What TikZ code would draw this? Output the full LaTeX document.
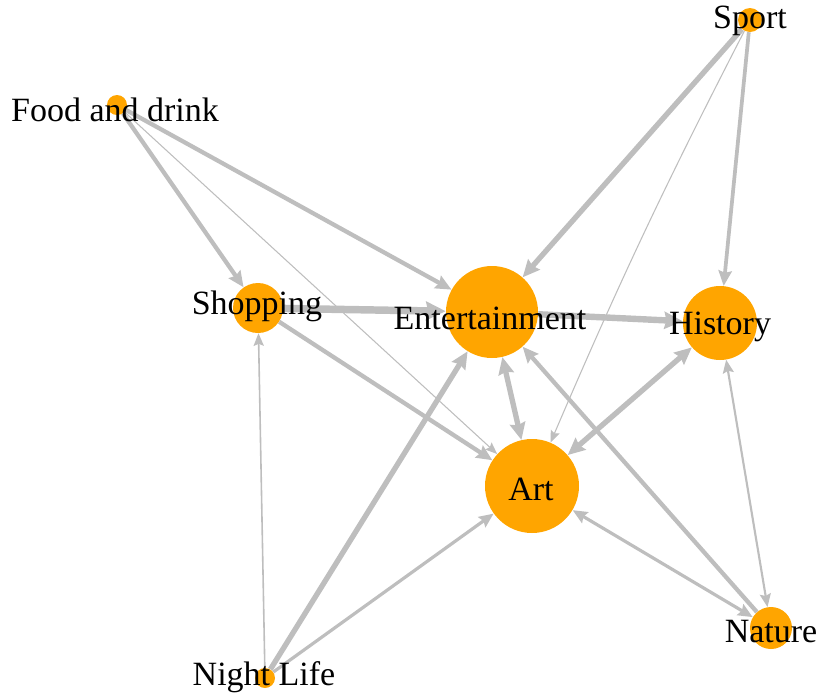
\documentclass[tikz,border=0pt]{standalone}
\usepackage{fontspec}
\setmainfont{Liberation Serif}
\usetikzlibrary{arrows.meta}
\definecolor{vorange}{RGB}{255,165,0}
\definecolor{egray}{RGB}{190,190,190}
\pgfdeclarelayer{edges}
\pgfsetlayers{edges,main}
\tikzset{
	vtx/.style={circle, fill=vorange, inner sep=0pt, minimum size=#1*1.5pt},
	lbl/.style={font=\fontsize{25.5}{28}\selectfont, inner sep=0pt, text=black},
	link/.style={draw=egray, line width=#1*0.8pt},
	>={Stealth[length=8pt 1.2, width=6pt 1.4, inset=1.5pt]}
}

\begin{document}
\begin{tikzpicture}[x=0.75pt, y=-0.75pt]
	\useasboundingbox (0,0) rectangle (819,694);

	\node[vtx=12] (sport) at (750,20) {};
	\node[vtx=10] (food) at (117,105) {};
	\node[vtx=25] (shopping) at (258,308) {};
	\node[vtx=46] (entertainment) at (492,312) {};
	\node[vtx=37] (history) at (720,323) {};
	\node[vtx=47] (art) at (532,486) {};
	\node[vtx=21] (nature) at (771,628) {};
	\node[vtx=10] (nightlife) at (265,678) {};

	\node[lbl] (sport-l) at (750,21) {Sport};
	\node[lbl] (food-l) at (115,110) {Food and drink};
	\node[lbl] (shopping-l) at (257,306) {Shopping};
	\node[lbl] (entertainment-l) at (490,318) {Entertainment};
	\node[lbl] (history-l) at (720,327) {History};
	\node[lbl] (art-l) at (531,489) {Art};
	\node[lbl] (nature-l) at (771,632) {Nature};
	\node[lbl] (nightlife-l) at (264,677) {Night Life};

	\begin{pgfonlayer}{edges}
	% food and drink
	\draw[link=4, ->] (food) -- (shopping);
	\draw[link=4, ->] (food) -- (entertainment);
	\draw[link=1, ->] (food) -- (art);
	% shopping
	\draw[link=7, ->] (shopping) -- (entertainment);
	\draw[link=4, ->] (shopping) -- (art);
	% night life
	\draw[link=1.5, ->] (nightlife) -- (shopping);
	\draw[link=5, ->] (nightlife) -- (entertainment);
	\draw[link=3, ->] (nightlife) -- (art);
	% sport
	\draw[link=5, ->] (sport) -- (entertainment);
	\draw[link=1, ->] (sport) to[bend right=2] (art);
	\draw[link=3.5, ->] (sport) -- (history);
	% entertainment, art, history, nature
	\draw[link=6, ->] (entertainment) -- (history);
	\draw[link=5, <->] (entertainment) -- (art);
	\draw[link=5, <->] (art) -- (history);
	\draw[link=4, ->] (nature) -- (entertainment);
	\draw[link=3, <->] (art) -- (nature);
	\draw[link=2, <->] (history) -- (nature);
	\end{pgfonlayer}
\end{tikzpicture}
\end{document}
